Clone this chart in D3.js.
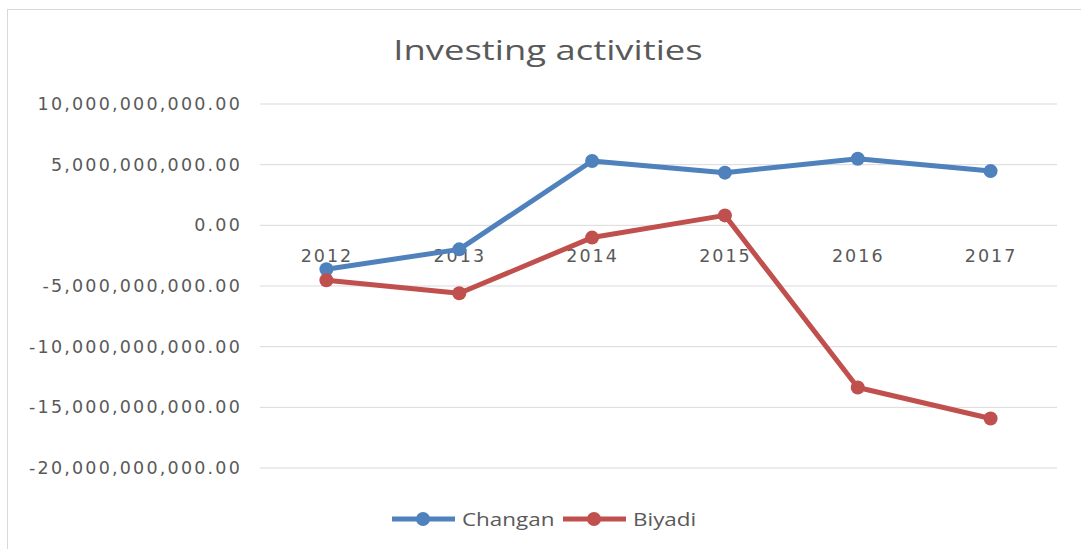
<!DOCTYPE html>
<html>
<head>
  <meta charset="utf-8">
  <title>Investing activities</title>
  <style>
    body { margin: 0; background: #fff; }
    text { fill: #595959; }
  </style>
</head>
<body>
  <script src="https://cdn.jsdelivr.net/npm/d3@7/dist/d3.min.js"></script>
  <script>
    // data
    var years = ["2012", "2013", "2014", "2015", "2016", "2017"];
    var changan = [-3.62e9, -1.98e9, 5.30e9, 4.34e9, 5.49e9, 4.47e9];
    var biyadi = [-4.53e9, -5.60e9, -1.01e9, 0.82e9, -13.37e9, -15.92e9];
    var yTicks = [10e9, 5e9, 0, -5e9, -10e9, -15e9, -20e9];
    var seriesNames = ["Changan", "Biyadi"];
    var seriesColors = ["#4f81bd", "#c0504d"];

    var W = 1081, H = 549;
    var margin = {top: 104, right: 24, bottom: 81, left: 260},
        width = W - margin.left - margin.right,
        height = H - margin.top - margin.bottom;

    var svg = d3.select("body").append("svg")
        .attr("width", W)
        .attr("height", H);

    // chart frame
    svg.append("rect")
      .attr("x", 7.5).attr("y", 9.5)
      .attr("width", W - 4).attr("height", H)
      .attr("fill", "none")
      .attr("stroke", "#d9d9d9");

    var g = svg.append("g")
        .attr("transform", "translate(" + margin.left + "," + margin.top + ")");

    var x = d3.scalePoint().domain(years).range([0, width]).padding(0.5);
    var y = d3.scaleLinear().domain([-20e9, 10e9]).range([height, 0]);

    // gridlines
    g.append("g").selectAll("line")
      .data(yTicks)
      .enter().append("line")
        .attr("x1", 0).attr("x2", width)
        .attr("y1", function(d){ return y(d); })
        .attr("y2", function(d){ return y(d); })
        .attr("stroke", "#d9d9d9")
        .attr("stroke-width", 1);

    // y axis labels
    var fmt = d3.format(",.2f");
    var yAxis = d3.axisLeft(y).tickValues(yTicks).tickSize(0).tickPadding(18)
        .tickFormat(function(d){ return fmt(d).replace("−", "-"); });
    var yg = g.append("g").call(yAxis);
    yg.select(".domain").remove();
    yg.selectAll("text")
      .attr("font-family", "DejaVu Sans")
      .attr("font-size", "17.5px")
      .attr("letter-spacing", "2.2px")
      .attr("fill", "#595959");

    // x axis labels sit on the zero line
    var xAxis = d3.axisBottom(x).tickSize(0).tickPadding(24);
    var xg = g.append("g")
      .attr("transform", "translate(0," + y(0) + ")")
      .call(xAxis);
    xg.select(".domain").remove();
    xg.selectAll("text")
      .attr("font-family", "DejaVu Sans")
      .attr("font-size", "17.5px")
      .attr("letter-spacing", "2px")
      .attr("fill", "#595959");

    // lines + markers
    var line = d3.line()
      .x(function(d, i){ return x(years[i]); })
      .y(function(d){ return y(d); });

    [changan, biyadi].forEach(function(vals, k) {
      g.append("path")
        .datum(vals)
        .attr("d", line)
        .attr("fill", "none")
        .attr("stroke", seriesColors[k])
        .attr("stroke-width", 5)
        .attr("stroke-linejoin", "round");
      g.selectAll(".m" + k)
        .data(vals)
        .enter().append("circle")
          .attr("class", "m" + k)
          .attr("cx", function(d, i){ return x(years[i]); })
          .attr("cy", function(d){ return y(d); })
          .attr("r", 7)
          .attr("fill", seriesColors[k]);
    });

    // title (picture is stretched sideways, so stretch the text too)
    svg.append("text")
      .attr("transform", "translate(548,60) scale(1.3,1)")
      .attr("text-anchor", "middle")
      .attr("font-family", "Open Sans")
      .attr("font-size", "28px")
      .text("Investing activities");

    // legend
    var legend = svg.append("g").attr("transform", "translate(392,519)");
    var lx = [0, 171];
    seriesNames.forEach(function(name, k) {
      var lg = legend.append("g").attr("transform", "translate(" + lx[k] + ",0)");
      lg.append("line")
        .attr("x1", 0).attr("x2", 63)
        .attr("y1", 0).attr("y2", 0)
        .attr("stroke", seriesColors[k])
        .attr("stroke-width", 5);
      lg.append("circle")
        .attr("cx", 31).attr("cy", 0).attr("r", 7)
        .attr("fill", seriesColors[k]);
      lg.append("text")
        .attr("transform", "translate(70,7) scale(1.18,1)")
        .attr("font-family", "Open Sans")
        .attr("font-size", "19px")
        .text(name);
    });
  </script>
</body>
</html>
